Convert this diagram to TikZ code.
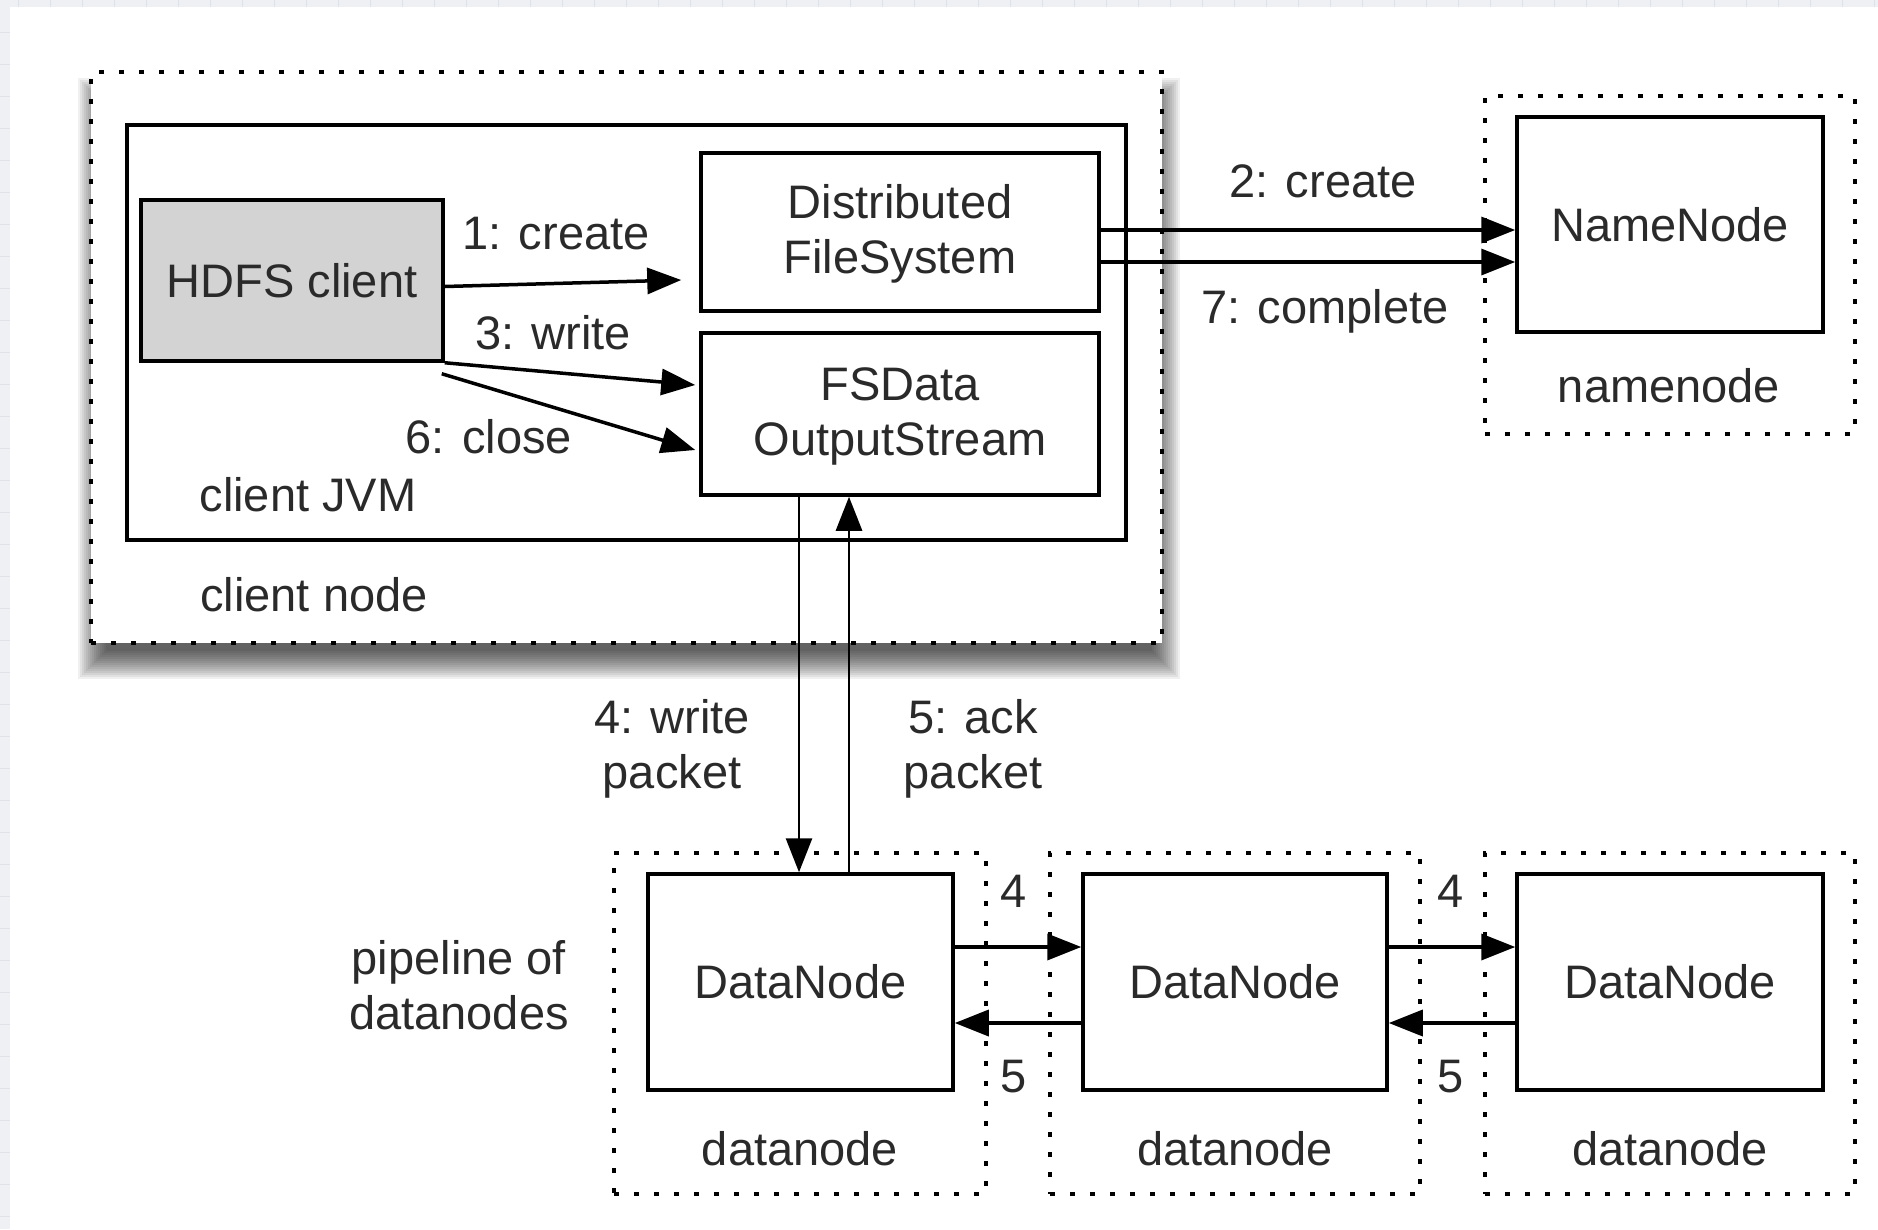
\documentclass[tikz,border=0pt]{standalone}
\usepackage{fontspec}
\setmainfont{Liberation Sans}
\usetikzlibrary{arrows.meta,calc}
\definecolor{txt}{HTML}{2A2A2A}
\definecolor{bgband}{HTML}{EEF0F3}
\definecolor{gridc}{HTML}{DFE3E9}
\definecolor{hdfsgray}{HTML}{D3D3D3}
\tikzset{
  lbl/.style={font=\fontsize{47}{55}\selectfont, text=txt, inner sep=0pt, align=center},
  solidbox/.style={draw=black, line width=3.5pt, fill=white, inner sep=0pt, align=center,
                   font=\fontsize{47}{55}\selectfont, text=txt},
  dotbox/.style={draw=black, line width=4.5pt, dash pattern=on 5pt off 15pt, inner sep=0pt},
  arr/.style={draw=black, line width=3.5pt, -{Triangle[length=34pt,width=26pt]}},
  varr/.style={draw=black, line width=2.8pt, -{Triangle[length=34pt,width=26pt]}},
}
\begin{document}
\begin{tikzpicture}[x=1pt,y=-1pt]
\useasboundingbox (0,0) rectangle (1878,1229);
% screenshot background
\fill[bgband] (0,0) rectangle (1878,1229);
\foreach \gx in {18,50,...,1878} \draw[gridc, line width=1pt] (\gx,0) -- (\gx,7);
\foreach \gy in {32,64,...,1229} \draw[gridc, line width=1pt] (0,\gy) -- (10,\gy);
\fill[white] (10,7) rectangle (1878,1229);

% soft shadow of the client node
\foreach \r in {-12,-10,...,16}
  \fill[black, opacity=0.06] ({94-(\r)},{94-(\r)}) rectangle ({1164+(\r)},{663+(\r)});

% client node
\node[dotbox, fill=white, minimum width=1071pt, minimum height=571pt] (cnode) at (626.5,357.5) {};
\node[solidbox, minimum width=999pt, minimum height=415pt] (jvm) at (626.5,332.5) {};
\node[solidbox, fill=hdfsgray, minimum width=302pt, minimum height=161pt] (hdfs) at (292,280.5) {HDFS client};
\node[solidbox, minimum width=398pt, minimum height=158pt] (dfs) at (900,232) {\rule{0pt}{38pt}Distributed\\FileSystem};
\node[solidbox, minimum width=398pt, minimum height=162pt] (fsd) at (900,414) {\rule{0pt}{38pt}FSData\\OutputStream};
\node[lbl, anchor=base] (ljvm) at (308,511) {client JVM};
\node[lbl, anchor=base] (lcnode) at (314,611) {client node};

% namenode
\node[dotbox, minimum width=370pt, minimum height=338pt] (nnout) at (1670,265) {};
\node[solidbox, minimum width=306pt, minimum height=215pt] (nn) at (1670,224.5) {NameNode};
\node[lbl, anchor=base] (lnn) at (1669,402) {namenode};

% datanodes
\node[dotbox, minimum width=372pt, minimum height=341pt] (dn1out) at (800,1023.5) {};
\node[dotbox, minimum width=370pt, minimum height=341pt] (dn2out) at (1235,1023.5) {};
\node[dotbox, minimum width=370pt, minimum height=341pt] (dn3out) at (1670,1023.5) {};
\node[solidbox, minimum width=305pt, minimum height=216pt] (dn1) at (800.5,982) {DataNode};
\node[solidbox, minimum width=304pt, minimum height=216pt] (dn2) at (1235,982) {DataNode};
\node[solidbox, minimum width=306pt, minimum height=216pt] (dn3) at (1670,982) {DataNode};
\node[lbl, anchor=base] (ldn1) at (800,1165) {datanode};
\node[lbl, anchor=base] (ldn2) at (1235,1165) {datanode};
\node[lbl, anchor=base] (ldn3) at (1670,1165) {datanode};
\node[lbl] (lpipe) at (459,985.5) {pipeline of\\datanodes};

% client-side arrows
\draw[arr] ($(hdfs.east)+(0,6)$) -- ($(dfs.west)+(-18,48)$);
\draw[arr] (hdfs.south east) -- ($(fsd.west)+(-4,-29)$);
\draw[arr] ($(hdfs.south east)+(-3,11)$) -- ($(fsd.west)+(-4,36)$);
\node[lbl, anchor=base] (l1) at (556,249) {1: create};
\node[lbl, anchor=base] (l3) at (553,349) {3: write};
\node[lbl, anchor=base] (l6) at (489,453) {6: close};

% to namenode
\draw[arr] ($(dfs.east)+(0,-2)$) -- ($(nn.west)+(0,5.5)$);
\draw[arr] ($(dfs.east)+(0,30)$) -- ($(nn.west)+(0,37.5)$);
\node[lbl, anchor=base] (l2) at (1323,197) {2: create};
\node[lbl, anchor=base] (l7) at (1325,323) {7: complete};

% write / ack packet
\coordinate (w4) at ($(dn1.north)+(-1.5,0)$);
\coordinate (k5) at ($(dn1.north)+(48.5,0)$);
\draw[varr] (w4 |- fsd.south) -- (w4);
\draw[varr] (k5) -- (k5 |- fsd.south);
\node[lbl] (l4) at (672,748.5) {4: write\\packet};
\node[lbl] (l5) at (973,748.5) {5: ack\\packet};

% pipeline
\draw[arr] ($(dn1.east)+(0,-35)$) -- ($(dn2.west)+(0,-35)$);
\draw[arr] ($(dn2.west)+(0,41)$) -- ($(dn1.east)+(0,41)$);
\draw[arr] ($(dn2.east)+(0,-35)$) -- ($(dn3.west)+(0,-35)$);
\draw[arr] ($(dn3.west)+(0,41)$) -- ($(dn2.east)+(0,41)$);
\node[lbl, anchor=base] (p4a) at (1014,907) {4};
\node[lbl, anchor=base] (p5a) at (1014,1092) {5};
\node[lbl, anchor=base] (p4b) at (1451,907) {4};
\node[lbl, anchor=base] (p5b) at (1451,1092) {5};
\end{tikzpicture}
\end{document}
